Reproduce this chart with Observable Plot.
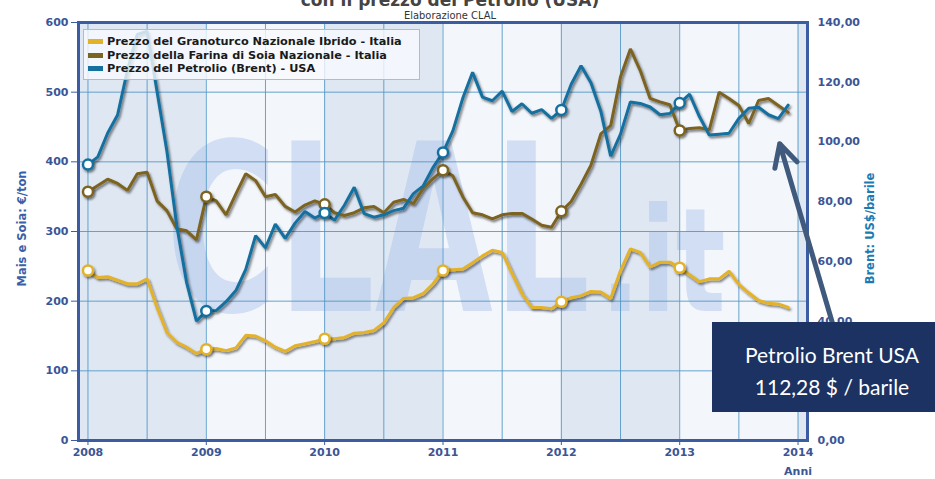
<!DOCTYPE html>
<html><head><meta charset="utf-8">
<script src="https://cdn.jsdelivr.net/npm/d3@7"></script>
<script src="https://cdn.jsdelivr.net/npm/@observablehq/plot@0.6"></script>
<style>
body{margin:0;background:#fff;}
#wrap{position:relative;width:935px;height:479px;overflow:hidden;}
#wrap svg{position:absolute;left:0;top:0;}
.legend{position:absolute;left:83px;top:29px;width:337px;height:51px;background:rgba(247,250,254,0.8);border:1px solid #9ec2de;box-sizing:border-box;padding:5px 0 0 4px;font:bold 11.3px "DejaVu Sans",sans-serif;color:#1a1a1a;}
.legend .row{height:13.5px;line-height:13.5px;display:flex;align-items:center;white-space:nowrap;}
.legend .sw{display:inline-block;width:15px;height:5px;margin-right:4px;}
.note{position:absolute;left:712px;top:322px;width:240px;height:90px;background:#1b3263;color:#fff;font:21px Lato,"Open Sans",sans-serif;text-align:center;box-sizing:border-box;padding-top:17px;line-height:32px;}
</style></head>
<body><div id="wrap"></div>
<script>
// ---- data ----
const startYear = 2008;
const seriesNames = ["Prezzo del Granoturco Nazionale Ibrido - Italia", "Prezzo della Farina di Soia Nazionale - Italia", "Prezzo del Petrolio (Brent) - USA"];
const seriesColors = ["#e3b22b", "#7b6320", "#14709f"];
const corn = [244,234,235,230,225,225,232,191,155,141,134,125, 131,132,129,133,151,150,143,134,128,136,139,142, 146,146,148,154,155,158,169,191,204,205,211,225, 244,245,246,255,265,273,270,240,211,191,191,189, 199,205,208,214,213,204,244,275,270,249,256,256, 248,238,228,232,232,243,224,212,201,197,196,191];
const soy = [357,366,375,369,359,383,385,344,330,304,301,288, 350,344,324,354,383,373,350,353,336,328,338,344, 339,327,323,327,334,336,327,342,346,340,362,376, 388,380,350,327,324,318,324,326,326,318,309,306, 329,343,368,395,440,452,522,562,531,491,486,482, 445,448,449,446,500,491,481,455,488,491,481,471];
const brent = [92.4,95,103,109,124,136,137,117,97,72,53,40, 43.4,43.5,46.5,50.2,57.3,68.6,64.5,72.5,67.7,72.8,76.7,74.5, 76.2,73.8,78.8,84.8,76,74.8,75.6,77,77.8,82.7,85.3,91.5, 96.5,103.7,114.6,123.3,115,113.8,117,110.2,112.8,109.6,110.8,107.9, 110.7,119.3,125.5,119.8,110.3,95.2,102.6,113.4,112.9,111.7,109.1,109.5, 113,116,108.5,102.3,102.6,102.9,107.9,111.3,111.6,109.1,107.8,112.3];
const leftTicks = [0,100,200,300,400,500,600];
const rightTicks = [0,20,40,60,80,100,120,140];
const xTicks = [2008,2009,2010,2011,2012,2013,2014];
const gridYears = [2008,2008.5,2009,2009.5,2010,2010.5,2011,2011.5,2012,2012.5,2013,2013.5,2014];
const bands = [[2007.92,2009,1],[2009,2010,0],[2010,2011,1],[2011,2012,0],[2012,2013,1],[2013,2014,0],[2014,2014.08,1]];
const markerMonths = [0,12,24,36,48,60];
const leftMax = 600, rightMax = 140;
const titleText = "con il prezzo del Petrolio (USA)";
const subtitleText = "Elaborazione CLAL";
const noteLines = ["Petrolio Brent USA", "112,28 $ / barile"];
const arrowPts = [{x1: 2014.29, y1: 169, x2: 2013.845, y2: 426}];

// ---- build table ----
const rows = [];
[corn, soy, brent].forEach((arr, s) => arr.forEach((v, i) => rows.push({
  s, t: startYear + i / 12, v: s === 2 ? v * leftMax / rightMax : v, i
})));
const marks = rows.filter(d => markerMonths.includes(d.i));
const toLeft = v => v * leftMax / rightMax;
const fmtR = v => (v * rightMax / leftMax).toFixed(2).replace(".", ",");

const chart = Plot.plot({
  width: 935, height: 479,
  marginLeft: 78, marginRight: 128, marginTop: 22, marginBottom: 39,
  x: {domain: [2007.92, 2014.08]},
  y: {domain: [0, 600]},
  color: {domain: [0,1,2], range: seriesColors},
  style: {fontFamily: "DejaVu Sans", fontWeight: "bold", fontSize: "11px", color: "#3b5596", background: "transparent"},
  marks: [
    Plot.rect(bands, {x1: d => d[0], x2: d => d[1], fill: d => d[2] ? "#dfe7f3" : "#f3f6fb"}),
    Plot.text(["CLAL"], {x: 2010.45, y: 186, fontSize: 233, fontFamily: "DejaVu Sans", fontWeight: "bold", fill: "#a9c2ea", fillOpacity: 0.45, lineAnchor: "bottom"}),
    Plot.text([".it"], {x: 2012.86, y: 186, fontSize: 145, fontFamily: "DejaVu Sans", fontWeight: "bold", fill: "#a9c2ea", fillOpacity: 0.45, lineAnchor: "bottom"}),
    Plot.gridY({ticks: leftTicks, stroke: "#4d95c6", strokeOpacity: 0.85}),
    Plot.gridX({ticks: gridYears, stroke: "#4d95c6", strokeOpacity: 0.85}),
    Plot.line(rows, {x: "t", y: "v", z: "s", stroke: "s", strokeWidth: 3, strokeLinejoin: "miter"}),
    Plot.dot(marks, {x: "t", y: "v", stroke: "s", fill: "white", r: 5, strokeWidth: 2.5}),
    Plot.frame({stroke: "#3b5ca3", strokeWidth: 3}),
    Plot.axisY({ticks: leftTicks, tickSize: 7, tickPadding: 3, label: null, stroke: "#3b5ca3"}),
    Plot.axisY({anchor: "right", ticks: rightTicks.map(toLeft), tickSize: 0, tickPadding: 10, tickFormat: fmtR, label: null}),
    Plot.axisX({ticks: xTicks, tickFormat: d => String(d), tickSize: 5, tickPadding: 3, label: null, stroke: "#3b5ca3"}),
    Plot.text(["Anni"], {x: 2014, frameAnchor: "bottom", dy: 34}),
    Plot.text(["Mais e Soia: €/ton"], {frameAnchor: "left", dx: -56, dy: -3, rotate: -90, textAnchor: "middle", fill: "#3b5fa8", fontSize: 11.5}),
    Plot.text(["Brent: US$/barile"], {frameAnchor: "right", dx: 63, dy: -3, rotate: -90, textAnchor: "middle", fill: "#1a7bb3", fontSize: 11.5}),
    Plot.text([subtitleText], {frameAnchor: "top", dy: -11, dx: 7, fontWeight: "normal", fontFamily: "DejaVu Sans Condensed", fill: "#333"}),
    Plot.text([titleText], {frameAnchor: "top", dy: -29, dx: 7, fontSize: 17, fill: "#444"}),
    Plot.arrow(arrowPts, {x1: "x1", y1: "y1", x2: "x2", y2: "y2", stroke: "#3f5a7c", strokeWidth: 5, headLength: 7.5, headAngle: 55})
  ]
});

// drop shadows on lines and markers
const svg = d3.select(chart);
const defs = svg.insert("defs", ":first-child");
const f = defs.append("filter").attr("id", "sh").attr("x", "-10%").attr("y", "-10%").attr("width", "120%").attr("height", "120%");
f.append("feDropShadow").attr("dx", 1.5).attr("dy", 2).attr("stdDeviation", 1.2).attr("flood-color", "#000").attr("flood-opacity", 0.5);
svg.selectAll('g[aria-label="line"], g[aria-label="dot"]').attr("filter", "url(#sh)");
svg.selectAll("text").filter(function(){ return this.textContent === "CLAL"; })
  .attr("textLength", 425).attr("lengthAdjust", "spacingAndGlyphs");
svg.selectAll("text").filter(function(){ return this.textContent === ".it"; })
  .attr("textLength", 125).attr("lengthAdjust", "spacingAndGlyphs");

const wrap = document.getElementById("wrap");
wrap.appendChild(chart);

// legend
const lg = document.createElement("div");
lg.className = "legend";
seriesNames.forEach((n, i) => {
  const r = document.createElement("div"); r.className = "row";
  const sw = document.createElement("span"); sw.className = "sw"; sw.style.background = seriesColors[i];
  r.appendChild(sw); r.appendChild(document.createTextNode(n));
  lg.appendChild(r);
});
wrap.appendChild(lg);

// annotation box
const note = document.createElement("div");
note.className = "note";
note.innerHTML = noteLines.map(t => `<div>${t}</div>`).join("");
wrap.appendChild(note);
</script>
</body></html>
